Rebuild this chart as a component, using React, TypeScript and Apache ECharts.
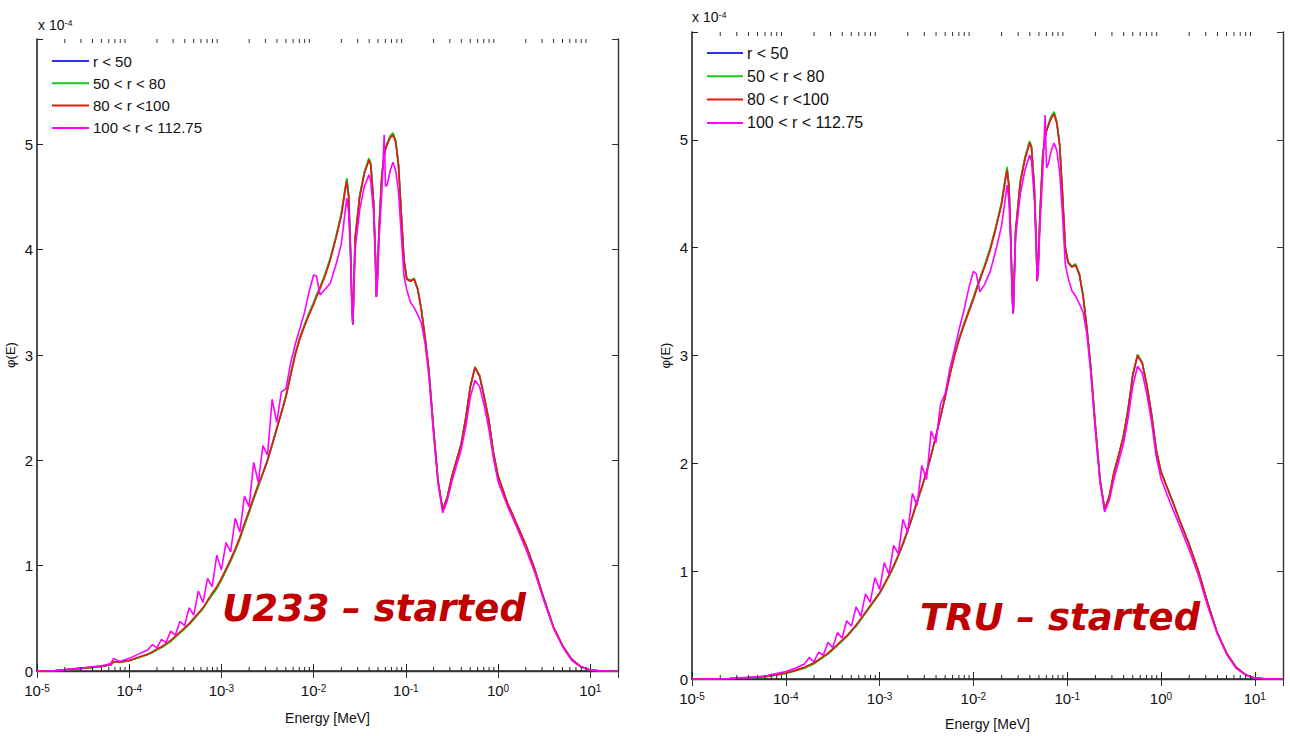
import React, { useEffect, useRef } from "react";
import * as echarts from "echarts";

// log10(E / MeV) sample grid shared by all curves
const logEnergy = [
  -5.0, -4.8, -4.6, -4.4, -4.3, -4.2, -4.17, -4.1, -4.0, -3.9,
  -3.8, -3.75, -3.7, -3.65, -3.6, -3.55, -3.5, -3.45, -3.4, -3.35,
  -3.3, -3.25, -3.2, -3.15, -3.1, -3.05, -3.0, -2.95, -2.9, -2.85,
  -2.8, -2.75, -2.7, -2.65, -2.6, -2.55, -2.5, -2.45, -2.4, -2.35,
  -2.3, -2.25, -2.2, -2.15, -2.1, -2.05, -2.0, -1.97, -1.93, -1.88,
  -1.82, -1.76, -1.7, -1.66, -1.64, -1.62, -1.6, -1.585, -1.575, -1.565,
  -1.55, -1.5, -1.45, -1.4, -1.38, -1.35, -1.33, -1.32, -1.31, -1.29,
  -1.26, -1.235, -1.22, -1.2, -1.17, -1.14, -1.11, -1.08, -1.05, -1.02,
  -0.99, -0.95, -0.91, -0.87, -0.83, -0.79, -0.75, -0.7, -0.65, -0.6,
  -0.55, -0.5, -0.45, -0.4, -0.35, -0.3, -0.25, -0.2, -0.15, -0.1,
  -0.05, 0.0, 0.1, 0.2, 0.3, 0.4, 0.5, 0.6, 0.7, 0.8,
  0.9, 1.0, 1.1, 1.3,
];

// ---- Left panel (U233) values, x 1e-4 ----
const redLeft = [
  0, 0.005, 0.02, 0.035, 0.045, 0.06, 0.09, 0.085, 0.1, 0.13,
  0.16, 0.18, 0.21, 0.23, 0.26, 0.29, 0.33, 0.37, 0.41, 0.45,
  0.5, 0.55, 0.6, 0.67, 0.74, 0.8, 0.88, 0.97, 1.06, 1.16,
  1.27, 1.4, 1.52, 1.65, 1.77, 1.88, 2.0, 2.15, 2.3, 2.45,
  2.6, 2.8, 3.0, 3.15, 3.27, 3.38, 3.48, 3.55, 3.63, 3.74,
  3.9, 4.1, 4.32, 4.55, 4.65, 4.5, 4.0, 3.5, 3.29, 3.6,
  4.1, 4.5, 4.72, 4.85, 4.8, 4.45, 3.95, 3.55, 3.7, 4.2,
  4.7, 4.88, 4.95, 5.0, 5.06, 5.09, 5.02, 4.8, 4.35, 3.9,
  3.72, 3.7, 3.72, 3.62, 3.42, 3.15, 2.85, 2.3, 1.8, 1.53,
  1.65, 1.85, 2.0, 2.15, 2.4, 2.7, 2.88, 2.8, 2.6, 2.38,
  2.07, 1.85, 1.6, 1.4, 1.2, 0.96, 0.68, 0.42, 0.24, 0.11,
  0.04, 0.01, 0.003, 0,
];
const greenLeft = [
  0, 0.004, 0.018, 0.032, 0.042, 0.057, 0.085, 0.082, 0.097, 0.125,
  0.155, 0.175, 0.2, 0.22, 0.25, 0.28, 0.32, 0.36, 0.4, 0.44,
  0.49, 0.54, 0.59, 0.66, 0.72, 0.78, 0.86, 0.95, 1.04, 1.14,
  1.25, 1.38, 1.5, 1.63, 1.75, 1.87, 1.99, 2.14, 2.3, 2.46,
  2.62, 2.82, 3.02, 3.17, 3.29, 3.4, 3.5, 3.57, 3.65, 3.76,
  3.92, 4.12, 4.35, 4.58, 4.68, 4.52, 4.02, 3.5, 3.29, 3.6,
  4.12, 4.52, 4.74, 4.87, 4.82, 4.46, 3.95, 3.55, 3.7, 4.22,
  4.72, 4.9, 4.97, 5.02, 5.08, 5.11, 5.04, 4.82, 4.36, 3.91,
  3.73, 3.71, 3.73, 3.63, 3.43, 3.16, 2.86, 2.31, 1.8, 1.53,
  1.65, 1.85, 2.0, 2.16, 2.41, 2.71, 2.89, 2.81, 2.61, 2.39,
  2.08, 1.86, 1.6, 1.4, 1.2, 0.96, 0.68, 0.42, 0.24, 0.11,
  0.04, 0.01, 0.003, 0,
];
const blueLeft = [
  0, 0.005, 0.019, 0.034, 0.044, 0.059, 0.088, 0.084, 0.099, 0.128,
  0.158, 0.178, 0.205, 0.225, 0.255, 0.285, 0.325, 0.365, 0.405, 0.445,
  0.495, 0.545, 0.595, 0.665, 0.73, 0.79, 0.87, 0.96, 1.05, 1.15,
  1.26, 1.39, 1.51, 1.64, 1.76, 1.88, 2.0, 2.15, 2.3, 2.45,
  2.61, 2.81, 3.01, 3.16, 3.28, 3.39, 3.49, 3.56, 3.64, 3.75,
  3.91, 4.11, 4.33, 4.56, 4.66, 4.51, 4.01, 3.5, 3.29, 3.6,
  4.11, 4.51, 4.73, 4.86, 4.81, 4.45, 3.95, 3.55, 3.7, 4.21,
  4.71, 4.89, 4.96, 5.01, 5.07, 5.1, 5.03, 4.81, 4.35, 3.9,
  3.72, 3.7, 3.72, 3.62, 3.42, 3.15, 2.85, 2.3, 1.8, 1.53,
  1.65, 1.85, 2.0, 2.15, 2.4, 2.7, 2.88, 2.8, 2.6, 2.38,
  2.07, 1.85, 1.6, 1.4, 1.2, 0.96, 0.68, 0.42, 0.24, 0.11,
  0.04, 0.01, 0.003, 0,
];
const magentaLeft = [
  0, 0.005, 0.02, 0.04, 0.05, 0.07, 0.12, 0.09, 0.12, 0.16,
  0.2, 0.25, 0.22, 0.3, 0.27, 0.38, 0.34, 0.47, 0.43, 0.6,
  0.53, 0.76, 0.65, 0.88, 0.8, 1.1, 0.96, 1.22, 1.13, 1.45,
  1.32, 1.66, 1.56, 1.98, 1.79, 2.14, 2.05, 2.58, 2.36, 2.65,
  2.68, 2.92, 3.1, 3.25, 3.4, 3.6, 3.76, 3.75, 3.57, 3.62,
  3.68, 3.85, 4.05, 4.35, 4.49, 4.35, 3.95, 3.45, 3.29, 3.55,
  4.0, 4.38, 4.6, 4.71, 4.65, 4.35, 3.9, 3.55, 3.65, 4.1,
  4.55, 5.09, 4.6, 4.62, 4.75, 4.83, 4.75, 4.55, 4.15, 3.75,
  3.62, 3.5, 3.45, 3.38, 3.3, 3.1, 2.8, 2.25, 1.78, 1.5,
  1.62, 1.8, 1.95, 2.1, 2.32, 2.6, 2.76, 2.7, 2.52, 2.3,
  2.02, 1.8, 1.57, 1.37, 1.16, 0.93, 0.66, 0.41, 0.23, 0.1,
  0.04, 0.01, 0.003, 0,
];

// ---- Right panel (TRU) values, x 1e-4 ----
const redRight = [
  0, 0, 0.005, 0.012, 0.018, 0.025, 0.03, 0.04, 0.055, 0.08,
  0.11, 0.13, 0.15, 0.18, 0.21, 0.24, 0.28, 0.32, 0.36, 0.4,
  0.45, 0.5, 0.56, 0.62, 0.68, 0.74, 0.8, 0.88, 0.96, 1.05,
  1.15, 1.26, 1.38, 1.51, 1.65, 1.78, 1.92, 2.08, 2.25, 2.43,
  2.62, 2.82, 3.0, 3.15, 3.28, 3.4, 3.52, 3.6, 3.7, 3.82,
  3.98, 4.18, 4.4, 4.62, 4.72, 4.55, 4.05, 3.55, 3.39, 3.7,
  4.15, 4.6, 4.82, 4.97, 4.92, 4.55, 4.05, 3.69, 3.8, 4.3,
  4.85, 5.02, 5.08, 5.13, 5.2, 5.24, 5.15, 4.95, 4.5, 4.0,
  3.86, 3.82, 3.84, 3.75, 3.55, 3.25, 2.9, 2.35, 1.85, 1.57,
  1.7, 1.92, 2.08, 2.25, 2.5, 2.82, 3.0, 2.93, 2.72, 2.45,
  2.12, 1.92, 1.7, 1.47, 1.25, 1.0, 0.7, 0.43, 0.24, 0.11,
  0.04, 0.01, 0.003, 0,
];
const greenRight = [
  0, 0, 0.004, 0.011, 0.016, 0.022, 0.027, 0.037, 0.05, 0.075,
  0.1, 0.12, 0.14, 0.17, 0.2, 0.23, 0.27, 0.31, 0.35, 0.39,
  0.44, 0.49, 0.55, 0.61, 0.67, 0.73, 0.79, 0.87, 0.95, 1.04,
  1.14, 1.25, 1.37, 1.5, 1.64, 1.77, 1.91, 2.07, 2.25, 2.44,
  2.63, 2.83, 3.02, 3.17, 3.3, 3.42, 3.54, 3.62, 3.72, 3.84,
  4.0, 4.2, 4.42, 4.65, 4.75, 4.57, 4.06, 3.55, 3.39, 3.7,
  4.16, 4.62, 4.84, 4.99, 4.94, 4.56, 4.05, 3.69, 3.8, 4.32,
  4.87, 5.04, 5.1, 5.15, 5.22, 5.26, 5.17, 4.96, 4.51, 4.01,
  3.87, 3.83, 3.85, 3.76, 3.56, 3.26, 2.91, 2.36, 1.85, 1.57,
  1.7, 1.92, 2.08, 2.26, 2.51, 2.83, 3.01, 2.94, 2.73, 2.46,
  2.13, 1.93, 1.7, 1.47, 1.25, 1.0, 0.7, 0.43, 0.24, 0.11,
  0.04, 0.01, 0.003, 0,
];
const blueRight = [
  0, 0, 0.005, 0.012, 0.017, 0.024, 0.029, 0.039, 0.053, 0.078,
  0.105, 0.125, 0.145, 0.175, 0.205, 0.235, 0.275, 0.315, 0.355, 0.395,
  0.445, 0.495, 0.555, 0.615, 0.675, 0.735, 0.795, 0.875, 0.955, 1.045,
  1.145, 1.255, 1.375, 1.505, 1.645, 1.775, 1.915, 2.075, 2.25, 2.43,
  2.62, 2.82, 3.01, 3.16, 3.29, 3.41, 3.53, 3.61, 3.71, 3.83,
  3.99, 4.19, 4.41, 4.63, 4.73, 4.56, 4.05, 3.55, 3.39, 3.7,
  4.15, 4.61, 4.83, 4.98, 4.93, 4.55, 4.05, 3.69, 3.8, 4.31,
  4.86, 5.03, 5.09, 5.14, 5.21, 5.25, 5.16, 4.95, 4.5, 4.0,
  3.86, 3.82, 3.84, 3.75, 3.55, 3.25, 2.9, 2.35, 1.85, 1.57,
  1.7, 1.92, 2.08, 2.25, 2.5, 2.82, 3.0, 2.93, 2.72, 2.45,
  2.12, 1.92, 1.7, 1.47, 1.25, 1.0, 0.7, 0.43, 0.24, 0.11,
  0.04, 0.01, 0.003, 0,
];
const magentaRight = [
  0, 0, 0.005, 0.015, 0.02, 0.03, 0.04, 0.05, 0.07, 0.1,
  0.14, 0.2, 0.16, 0.25, 0.22, 0.34, 0.29, 0.43, 0.38, 0.54,
  0.49, 0.67, 0.58, 0.79, 0.71, 0.94, 0.83, 1.08, 0.97, 1.24,
  1.16, 1.48, 1.36, 1.72, 1.61, 1.98, 1.85, 2.3, 2.19, 2.55,
  2.65, 2.88, 3.06, 3.25, 3.42, 3.62, 3.78, 3.76, 3.59, 3.66,
  3.78, 3.98, 4.2, 4.45, 4.58, 4.42, 3.98, 3.5, 3.39, 3.68,
  4.1, 4.5, 4.72, 4.86, 4.8, 4.45, 4.0, 3.7, 3.75, 4.2,
  4.7, 5.23, 4.74, 4.78, 4.9, 4.97, 4.9, 4.7, 4.3, 3.85,
  3.72, 3.6, 3.55, 3.48, 3.4, 3.2, 2.85, 2.3, 1.82, 1.55,
  1.66, 1.86, 2.02, 2.18, 2.42, 2.72, 2.9, 2.84, 2.64, 2.38,
  2.06, 1.86, 1.63, 1.42, 1.2, 0.96, 0.67, 0.42, 0.23, 0.1,
  0.04, 0.01, 0.003, 0,
];

const seriesNames = ["r < 50", "50 < r < 80", "80 < r <100", "100 < r < 112.75"];
const seriesColors = ["#2f2fff", "#16c916", "#e8180c", "#ff00ff"];
const panelTitles = ["U233 \u2013 started", "TRU \u2013 started"];
const xAxisTitle = "Energy [MeV]";
const yAxisTitle = "\u03c6(E)";
const xMin = 1e-5;
const xMax = 20;
const yMin = 0;
const yMax = 6;
const minorMultipliers = [2, 3, 4, 5, 6, 7, 8, 9];
const decades = [-5, -4, -3, -2, -1, 0, 1];

const FONT = '"Liberation Sans", Arial, Helvetica, sans-serif';

export default function App() {
  const ref = useRef<HTMLDivElement>(null);

  useEffect(() => {
    if (!ref.current) return;
    const chart = echarts.init(ref.current, null, { renderer: "svg" });
    const energies = logEnergy.map((e) => Math.pow(10, e));
    const toData = (vals: number[]) => energies.map((x, i) => [x, vals[i]]);

    const minorTicks: number[][] = [];
    decades.forEach((d) =>
      minorMultipliers.forEach((m) => {
        const v = m * Math.pow(10, d);
        if (v < xMax) minorTicks.push([v, 0]);
      })
    );

    const grids = [
      { left: 37, top: 39, width: 581, height: 632 },
      { left: 692, top: 32, width: 591, height: 647 },
    ];
    const panels = [
      [blueLeft, greenLeft, redLeft, magentaLeft],
      [blueRight, greenRight, redRight, magentaRight],
    ];

    const xLabelFmt = (v: number) => {
      const e = Math.log10(v);
      if (Math.abs(e - Math.round(e)) > 1e-6) return "";
      return `{b|10}{s|${Math.round(e)}}`;
    };
    const xRich = {
      b: { fontSize: 15, fontFamily: FONT, color: "#111", lineHeight: 15, verticalAlign: "bottom" },
      s: { fontSize: 10, fontFamily: FONT, color: "#111", lineHeight: 10, padding: [0, 0, 9, 0], verticalAlign: "top" },
    };

    const xAxes: any[] = [];
    const yAxes: any[] = [];
    grids.forEach((_, gi) => {
      xAxes.push({
        type: "log",
        gridIndex: gi,
        position: "bottom",
        min: xMin,
        max: xMax,
        logBase: 10,
        name: xAxisTitle,
        nameLocation: "middle",
        nameGap: gi === 0 ? 40 : 38,
        nameTextStyle: { fontSize: 14, fontFamily: FONT, color: "#111" },
        axisLine: { show: true, lineStyle: { color: "#222", width: 1.6 } },
        axisTick: { show: true, inside: true, length: 7, lineStyle: { color: "#222" } },
        axisLabel: { formatter: xLabelFmt, rich: xRich, margin: 12, showMaxLabel: false },
        splitLine: { show: false },
      });
      xAxes.push({
        type: "log",
        gridIndex: gi,
        position: "top",
        min: xMin,
        max: xMax,
        logBase: 10,
        axisLine: { show: true, lineStyle: { color: "#333", width: 1.4 } },
        axisTick: { show: true, inside: true, length: 7, lineStyle: { color: "#333" } },
        axisLabel: { show: false },
        splitLine: { show: false },
      });
      yAxes.push({
        type: "value",
        gridIndex: gi,
        position: "left",
        min: yMin,
        max: yMax,
        interval: 1,
        name: yAxisTitle,
        nameLocation: "middle",
        nameGap: 20,
        nameRotate: 90,
        nameTextStyle: { fontSize: 13, fontFamily: FONT, color: "#111" },
        axisLine: { show: true, lineStyle: { color: "#222", width: 1.6 } },
        axisTick: { show: true, inside: true, length: 6, lineStyle: { color: "#222" } },
        axisLabel: {
          fontSize: 15,
          fontFamily: FONT,
          color: "#111",
          margin: 4,
          formatter: (v: number) => (v >= yMax ? "" : String(v)),
        },
        splitLine: { show: false },
      });
      yAxes.push({
        type: "value",
        gridIndex: gi,
        position: "right",
        min: yMin,
        max: yMax,
        interval: 1,
        axisLine: { show: true, lineStyle: { color: "#333", width: 1.4 } },
        axisTick: { show: true, inside: true, length: 6, lineStyle: { color: "#333" } },
        axisLabel: { show: false },
        splitLine: { show: false },
      });
    });

    const series: any[] = [];
    panels.forEach((vals, pi) => {
      vals.forEach((v, si) => {
        series.push({
          type: "line",
          name: seriesNames[si],
          xAxisIndex: pi * 2,
          yAxisIndex: pi * 2,
          data: toData(v),
          symbol: "none",
          lineStyle: { color: seriesColors[si], width: 1.6 },
          itemStyle: { color: seriesColors[si] },
          z: 3 + si,
        });
      });
      series.push({
        type: "custom",
        name: "minor" + pi,
        xAxisIndex: pi * 2,
        yAxisIndex: pi * 2,
        data: minorTicks,
        silent: true,
        clip: false,
        z: 10,
        renderItem: (params: any, api: any) => {
          const v = api.value(0);
          const pb = api.coord([v, yMin]);
          const pt = api.coord([v, yMax]);
          return {
            type: "group",
            children: [
              { type: "line", shape: { x1: pb[0], y1: pb[1], x2: pb[0], y2: pb[1] - 4 }, style: { stroke: "#222", lineWidth: 1 } },
              { type: "line", shape: { x1: pt[0], y1: pt[1], x2: pt[0], y2: pt[1] + 4 }, style: { stroke: "#333", lineWidth: 1 } },
            ],
          };
        },
      });
    });

    const legendBase = {
      orient: "vertical",
      data: seriesNames,
      icon: "rect",
      itemHeight: 2,
      backgroundColor: "transparent",
      borderWidth: 0,
      padding: 0,
    };

    const option: any = {
      animation: false,
      backgroundColor: "#fff",
      grid: grids,
      xAxis: xAxes,
      yAxis: yAxes,
      legend: [
        { ...legendBase, left: 52, top: 53, itemWidth: 37, itemGap: 6.3, textStyle: { fontSize: 15, lineHeight: 16, fontFamily: FONT, color: "#111", padding: [0, 0, 0, -1] } },
        { ...legendBase, left: 707, top: 45, itemWidth: 36, itemGap: 7.3, textStyle: { fontSize: 16, lineHeight: 16, fontFamily: FONT, color: "#111", padding: [0, 0, 0, -1] } },
      ],
      graphic: [
        {
          type: "text",
          x: 38,
          y: 18,
          style: {
            text: "{b|x 10}{s|-4}",
            rich: {
              b: { fontSize: 14, fontFamily: FONT, fill: "#111", lineHeight: 14, verticalAlign: "bottom" },
              s: { fontSize: 9, fontFamily: FONT, fill: "#111", lineHeight: 9, padding: [0, 0, 7, 0], verticalAlign: "top" },
            },
          },
        },
        {
          type: "text",
          x: 692,
          y: 10,
          style: {
            text: "{b|x 10}{s|-4}",
            rich: {
              b: { fontSize: 14, fontFamily: FONT, fill: "#111", lineHeight: 14, verticalAlign: "bottom" },
              s: { fontSize: 9, fontFamily: FONT, fill: "#111", lineHeight: 9, padding: [0, 0, 7, 0], verticalAlign: "top" },
            },
          },
        },
        {
          type: "text",
          x: 374,
          y: 608,
          z: 20,
          style: {
            text: panelTitles[0],
            fontSize: 37,
            fontWeight: "bold",
            fontStyle: "italic",
            fontFamily: '"DejaVu Sans", Verdana, sans-serif',
            fill: "#c00000",
            align: "center",
            verticalAlign: "middle",
          },
        },
        {
          type: "text",
          x: 1060,
          y: 617,
          z: 20,
          style: {
            text: panelTitles[1],
            fontSize: 37,
            fontWeight: "bold",
            fontStyle: "italic",
            fontFamily: '"DejaVu Sans", Verdana, sans-serif',
            fill: "#c00000",
            align: "center",
            verticalAlign: "middle",
          },
        },
      ],
      series,
    };

    chart.setOption(option);
    return () => chart.dispose();
  }, []);

  return (
    <div
      ref={ref}
      style={{ position: "absolute", left: 0, top: 0, width: 1290, height: 736, background: "#fff" }}
    />
  );
}
